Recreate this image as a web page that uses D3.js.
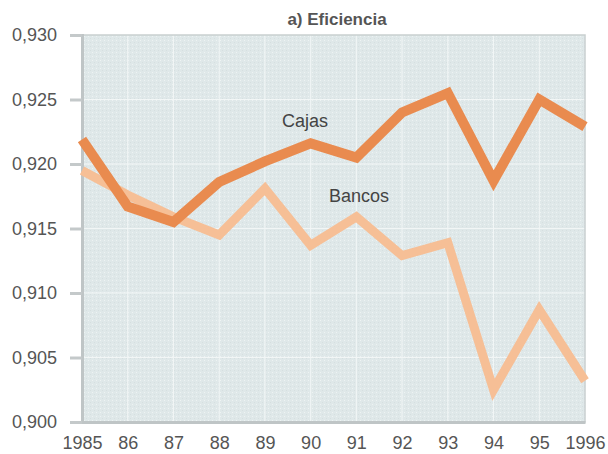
<!DOCTYPE html>
<html>
<head>
<meta charset="utf-8">
<script src="https://cdn.jsdelivr.net/npm/d3@7"></script>
<style>
  body { margin: 0; background: #fff; }
  text { font-family: "Liberation Sans", Arial, sans-serif; }
</style>
</head>
<body>
<div class="main"></div>
<script>
// data
const years = [1985, 1986, 1987, 1988, 1989, 1990, 1991, 1992, 1993, 1994, 1995, 1996];
const yearLabels = ["1985", "86", "87", "88", "89", "90", "91", "92", "93", "94", "95", "1996"];
const cajas = [0.9219, 0.9167, 0.9155, 0.9186, 0.9202, 0.9216, 0.9205, 0.9240, 0.9255, 0.9187, 0.9250, 0.9229];
const bancos = [0.9195, 0.9176, 0.9159, 0.9145, 0.9181, 0.9137, 0.9159, 0.9129, 0.9139, 0.9025, 0.9087, 0.9032];
const yTicks = [0.900, 0.905, 0.910, 0.915, 0.920, 0.925, 0.930];

// scaling
const w = 608, h = 454;
const padL = 82, padR = 585, padT = 35, padB = 422;

const xScale = d3.scaleLinear().domain([1985, 1996]).range([padL, padR]);
const yScale = d3.scaleLinear().domain([0.900, 0.930]).range([padB, padT]);
const fmt = v => d3.format(".3f")(v).replace(".", ",");

const svg = d3.select(".main")
  .append("svg")
  .attr("width", w)
  .attr("height", h);

// paper-ish texture for the plot area
const defs = svg.append("defs");
const pat = defs.append("pattern")
  .attr("id", "tex")
  .attr("width", 4).attr("height", 4)
  .attr("patternUnits", "userSpaceOnUse");
pat.append("rect").attr("width", 4).attr("height", 4).attr("fill", "#dfe8e9");
pat.append("rect").attr("width", 1).attr("height", 1).attr("fill", "#eef3f3");
pat.append("rect").attr("x", 2).attr("y", 2).attr("width", 1).attr("height", 1).attr("fill", "#d6dfe0");

svg.append("rect")
  .attr("x", padL).attr("y", padT)
  .attr("width", padR - padL).attr("height", padB - padT)
  .attr("fill", "url(#tex)");

// grid
svg.append("g")
  .selectAll("line")
  .data(years.slice(1, -1))
  .enter()
  .append("line")
  .attr("x1", d => xScale(d)).attr("x2", d => xScale(d))
  .attr("y1", padT).attr("y2", padB)
  .attr("stroke", "#f2f6f6").attr("stroke-width", 1);

svg.append("g")
  .selectAll("line")
  .data(yTicks.slice(1, -1))
  .enter()
  .append("line")
  .attr("x1", padL).attr("x2", padR)
  .attr("y1", d => yScale(d)).attr("y2", d => yScale(d))
  .attr("stroke", "#f2f6f6").attr("stroke-width", 1);

// frame
svg.append("rect")
  .attr("x", padL).attr("y", padT)
  .attr("width", padR - padL).attr("height", padB - padT)
  .attr("fill", "none")
  .attr("stroke", "#c9cfd0").attr("stroke-width", 1.5);

// axes
const yAxis = d3.axisLeft(yScale).tickValues(yTicks).tickFormat(fmt).tickSize(12).tickPadding(13);
const xAxis = d3.axisBottom(xScale).tickValues(years).tickFormat((d, i) => yearLabels[i]).tickSize(0).tickPadding(14);

const gy = svg.append("g")
  .attr("id", "y-axis")
  .attr("transform", "translate(" + padL + ",0)")
  .call(yAxis);
gy.select(".domain").attr("stroke", "#bfc5c6").attr("stroke-width", 3);
gy.selectAll(".tick line").attr("stroke", "#c4c9ca").attr("stroke-width", 3);
gy.selectAll(".tick text")
  .attr("fill", "#555").style("font-size", "18px").style("font-family", "Liberation Sans, Arial, sans-serif");

const gx = svg.append("g")
  .attr("id", "x-axis")
  .attr("transform", "translate(0," + padB + ")")
  .call(xAxis);
gx.select(".domain").attr("stroke", "#bfc5c6").attr("stroke-width", 3);
gx.selectAll(".tick text")
  .attr("fill", "#555").style("font-size", "18px").style("font-family", "Liberation Sans, Arial, sans-serif");

// lines
const line = d3.line()
  .x((d, i) => xScale(years[i]))
  .y(d => yScale(d));

svg.append("path")
  .datum(bancos)
  .attr("d", line)
  .attr("fill", "none")
  .attr("stroke", "#f6bf96")
  .attr("stroke-width", 9)
  .attr("stroke-linejoin", "miter");

svg.append("path")
  .datum(cajas)
  .attr("d", line)
  .attr("fill", "none")
  .attr("stroke", "#e98b4f")
  .attr("stroke-width", 10)
  .attr("stroke-linejoin", "miter");

// labels
svg.append("text")
  .attr("x", 305).attr("y", 127)
  .attr("text-anchor", "middle")
  .attr("fill", "#444")
  .style("font-size", "18px")
  .text("Cajas");

svg.append("text")
  .attr("x", 359).attr("y", 202)
  .attr("text-anchor", "middle")
  .attr("fill", "#444")
  .style("font-size", "18px")
  .text("Bancos");

svg.append("text")
  .attr("x", 337).attr("y", 25)
  .attr("text-anchor", "middle")
  .attr("fill", "#555")
  .style("font-size", "17px")
  .style("font-weight", "bold")
  .text("a) Eficiencia");
</script>
</body>
</html>
